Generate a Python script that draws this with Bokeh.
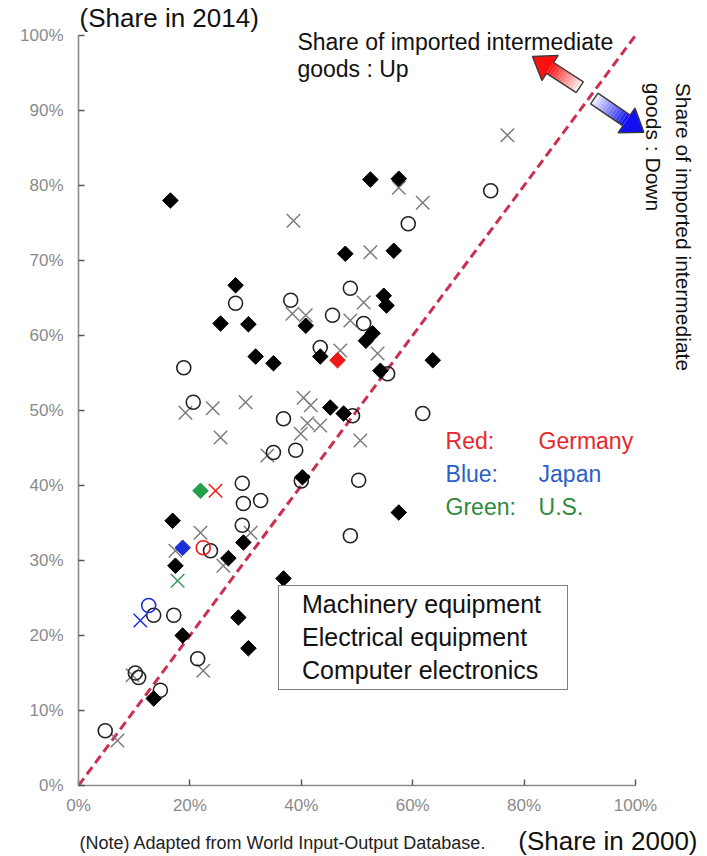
import numpy as np
from bokeh.plotting import figure
from bokeh.layouts import column
from bokeh.models import (Range1d, FixedTicker, PrintfTickFormatter, Label,
                          Legend, LegendItem, ColumnDataSource)
from bokeh.core.properties import value
from bokeh.embed import file_html
from bokeh.resources import INLINE

# ---------------- data (share %, x = 2000, y = 2014) ----------------
mach_x = [74.0, 59.2, 48.8, 45.6, 51.2, 43.4, 55.5, 28.2, 38.1, 61.8, 49.2, 36.8,
          35.0, 39.0, 40.0, 50.3, 48.8, 18.9, 20.6, 29.4, 29.6, 32.7, 29.4, 23.7,
          13.5, 17.1, 21.4, 10.8, 10.2, 14.7, 4.8]
mach_y = [79.3, 74.9, 66.3, 62.7, 61.6, 58.4, 54.9, 64.3, 64.7, 49.6, 49.3, 48.9,
          44.4, 44.7, 40.6, 40.7, 33.3, 55.7, 51.1, 40.3, 37.6, 38.0, 34.7, 31.3,
          22.7, 22.7, 16.9, 14.4, 15.0, 12.7, 7.3]

elec_x = [77.0, 61.8, 57.5, 38.6, 52.4, 51.2, 48.8, 38.4, 40.8, 47.0, 53.7, 30.0,
          40.4, 41.7, 41.1, 43.4, 39.9, 50.6, 33.9, 19.2, 24.1, 25.5, 21.9, 30.9,
          17.4, 26.0, 22.4, 9.7, 7.0]
elec_y = [86.7, 77.7, 79.7, 75.3, 71.1, 64.4, 62.0, 62.9, 62.7, 58.0, 57.6, 51.1,
          51.7, 50.7, 48.3, 48.0, 46.9, 46.0, 44.0, 49.7, 50.3, 46.4, 33.7, 33.7,
          31.3, 29.3, 15.3, 14.7, 6.0]

comp_x = [16.5, 52.4, 57.5, 47.9, 56.6, 28.2, 54.8, 55.3, 25.5, 30.5, 40.8, 52.8,
          51.6, 43.4, 31.8, 35.0, 63.6, 54.2, 45.2, 47.6, 40.2, 57.5, 16.9, 29.6,
          26.9, 17.4, 36.8, 28.7, 18.7, 30.5, 13.5]
comp_y = [78.0, 80.8, 80.9, 70.9, 71.3, 66.7, 65.3, 64.0, 61.6, 61.5, 61.3, 60.3,
          59.3, 57.2, 57.2, 56.3, 56.7, 55.3, 50.4, 49.6, 41.1, 36.4, 35.3, 32.4,
          30.3, 29.3, 27.6, 22.4, 20.0, 18.3, 11.6]

# highlighted countries: machinery, electrical, computer
germany_x = [22.4, 24.6, 46.5]
germany_y = [31.7, 39.3, 56.7]
japan_x = [12.6, 11.1, 18.7]
japan_y = [24.0, 22.0, 31.7]
us_x = [17.8, 21.9]          # electrical, computer
us_y = [27.3, 39.3]

diag = [0, 100]
x_ticks = [0, 20, 40, 60, 80, 100]
y_ticks = [0, 10, 20, 30, 40, 50, 60, 70, 80, 90, 100]
legend_labels = ["Machinery equipment", "Electrical equipment", "Computer electronics"]

# ---------------- layout constants ----------------
W = 707
MAIN_H, FOOT_H = 823, 33
LEFT, BOTTOM = 78, 38
PXX = 5.57   # pixels per % (x)
PXY = 7.5    # pixels per % (y)
FONT = "Liberation Sans"

# ---------------- main figure ----------------
p = figure(width=W, height=MAIN_H, output_backend="svg", toolbar_location=None,
           x_range=Range1d(0, (W - LEFT) / PXX),
           y_range=Range1d(0, (MAIN_H - BOTTOM) / PXY),
           min_border_left=LEFT, min_border_right=0, min_border_top=0,
           min_border_bottom=BOTTOM)
p.grid.visible = False
p.outline_line_color = None
p.background_fill_color = "white"
p.border_fill_color = "white"

for ax, ticks, stand in ((p.xaxis[0], x_ticks, 10), (p.yaxis[0], y_ticks, 15)):
    ax.bounds = (0, 100)
    ax.ticker = FixedTicker(ticks=ticks)
    ax.formatter = PrintfTickFormatter(format="%d%%")
    ax.axis_line_color = "#8c8c8c"
    ax.axis_line_width = 1.6
    ax.major_tick_in = 6
    ax.major_tick_out = 0
    ax.major_tick_line_color = "#555555"
    ax.major_tick_line_width = 1.4
    ax.minor_tick_line_color = None
    ax.major_label_text_color = "#8a8a8a"
    ax.major_label_text_font = FONT
    ax.major_label_text_font_size = "17px"
    ax.major_label_standoff = stand

# diagonal
p.line(diag, diag, line_color="#cc2f4f", line_width=3, line_dash="9 5")


# arrows (decorative)
def hex2rgb(h):
    h = h.lstrip("#")
    return [int(h[i:i + 2], 16) for i in (0, 2, 4)]


def rgb2hex(c):
    return "#%02x%02x%02x" % tuple(int(round(v)) for v in c)


def arrow(tail, tip, c_tail, c_tip, shaft=13, head_w=30, head_len=21, n=12):
    t = np.array([tail[0] * PXX, tail[1] * PXY])
    e = np.array([tip[0] * PXX, tip[1] * PXY])
    d = (e - t) / np.linalg.norm(e - t)
    nrm = np.array([-d[1], d[0]])
    base = e - d * head_len
    ct, ce = np.array(hex2rgb(c_tail), float), np.array(hex2rgb(c_tip), float)
    xs, ys, cols = [], [], []
    for i in range(n):
        a = t + (base - t) * i / n
        b = t + (base - t) * (i + 1) / n
        pts = [a + nrm * shaft / 2, b + nrm * shaft / 2, b - nrm * shaft / 2, a - nrm * shaft / 2]
        xs.append([q[0] / PXX for q in pts])
        ys.append([q[1] / PXY for q in pts])
        cols.append(rgb2hex(ct + (ce - ct) * (i + 0.5) / n))
    hp = [base + nrm * head_w / 2, e, base - nrm * head_w / 2]
    xs.append([q[0] / PXX for q in hp])
    ys.append([q[1] / PXY for q in hp])
    cols.append(c_tip)
    p.patches(xs, ys, fill_color=cols, line_color=None)
    outline = [t + nrm * shaft / 2, base + nrm * shaft / 2, base + nrm * head_w / 2, e,
               base - nrm * head_w / 2, base - nrm * shaft / 2, t - nrm * shaft / 2,
               t + nrm * shaft / 2]
    p.line([q[0] / PXX for q in outline], [q[1] / PXY for q in outline],
           line_color="#3a3a3a", line_width=1.4)


arrow((90.0, 93.1), (81.5, 97.2), "#fff6f6", "#ff1010")
arrow((92.6, 91.6), (101.5, 87.1), "#f6f6ff", "#1010f0")

# points
p.scatter(elec_x, elec_y, marker="x", size=19, line_color="#7c7c7c", line_width=1.5)
p.scatter(mach_x, mach_y, marker="circle", size=14, fill_color=None,
          line_color="#222222", line_width=1.6)
p.scatter(comp_x, comp_y, marker="square", angle=np.pi / 4, size=11,
          fill_color="black", line_color="black")

for xs_, ys_, col in ((germany_x, germany_y, "#f01818"), (japan_x, japan_y, "#1a2fd8")):
    p.scatter(xs_[:1], ys_[:1], marker="circle", size=14, fill_color=None,
              line_color=col, line_width=1.6)
    p.scatter(xs_[1:2], ys_[1:2], marker="x", size=19, line_color=col, line_width=1.5)
    p.scatter(xs_[2:], ys_[2:], marker="square", angle=np.pi / 4, size=11,
              fill_color=col, line_color=col)
p.scatter(us_x[:1], us_y[:1], marker="x", size=19, line_color="#3a9a55", line_width=1.5)
p.scatter(us_x[1:], us_y[1:], marker="square", angle=np.pi / 4, size=11,
          fill_color="#22a04a", line_color="#22a04a")

# legend
empty = ColumnDataSource(data=dict(x=[], y=[]))
r1 = p.scatter("x", "y", source=empty, marker="circle", size=6, fill_color=None,
               line_color="#333333", line_width=1.3)
r2 = p.scatter("x", "y", source=empty, marker="x", size=8, line_color="#777777", line_width=1.3)
r3 = p.scatter("x", "y", source=empty, marker="square", angle=np.pi / 4, size=5,
               fill_color="black", line_color="black")
legend = Legend(items=[LegendItem(label=legend_labels[0], renderers=[r1]),
                       LegendItem(label=legend_labels[1], renderers=[r2]),
                       LegendItem(label=legend_labels[2], renderers=[r3])],
                location=(200, 95), border_line_color="black", border_line_width=1.5,
                label_text_font=FONT, label_text_font_size="25px", label_text_color="#111111",
                glyph_width=12, glyph_height=20, label_standoff=7, label_width=261,
                spacing=4, padding=4, margin=0, background_fill_alpha=1.0)
p.add_layout(legend)


def lab(x, y, text, size="23px", color="#111111", align="left", baseline="middle", angle=0):
    p.add_layout(Label(x=x, y=y, text=text, text_font=FONT, text_font_size=size,
                       text_color=color, text_align=align, text_baseline=baseline,
                       angle=angle))


lab(0.2, 102.3, "(Share in 2014)", size="26px")
lab(39.3, 99.1, "Share of imported intermediate")
lab(39.3, 95.6, "goods : Up")
lab(108.6, 93.7, "Share of imported intermediate", size="21px", angle=-np.pi / 2)
lab(103.2, 93.7, "goods : Down", size="21px", angle=-np.pi / 2)

for yy, a, b, col in ((46.0, "Red:", "Germany", "#e8262b"),
                      (41.5, "Blue:", "Japan", "#2c5fc4"),
                      (37.1, "Green:", "U.S.", "#2e8b3c")):
    lab(65.9, yy, a, color=col)
    lab(82.6, yy, b, color=col)

# ---------------- footer (frame aligned with main frame: page x 78..707) ----------------
foot = figure(width=W, height=FOOT_H, output_backend="svg", toolbar_location=None,
              x_range=Range1d(LEFT, W), y_range=Range1d(0, FOOT_H), min_border=0,
              x_axis_location=None, y_axis_location=None)
foot.grid.visible = False
foot.outline_line_color = None
foot.text(x=[LEFT + 1], y=[FOOT_H - 19], text=["(Note) Adapted from World Input-Output Database."],
          text_font=value(FONT), text_font_size="18px", text_color="#222222",
          text_baseline="middle")
foot.text(x=[697], y=[FOOT_H - 17], text=["(Share in 2000)"], text_font=value(FONT),
          text_font_size="26px", text_color="#111111", text_baseline="middle",
          text_align="right")

layout = column(p, foot, spacing=0)
open("out.html", "w").write(file_html(layout, INLINE))
